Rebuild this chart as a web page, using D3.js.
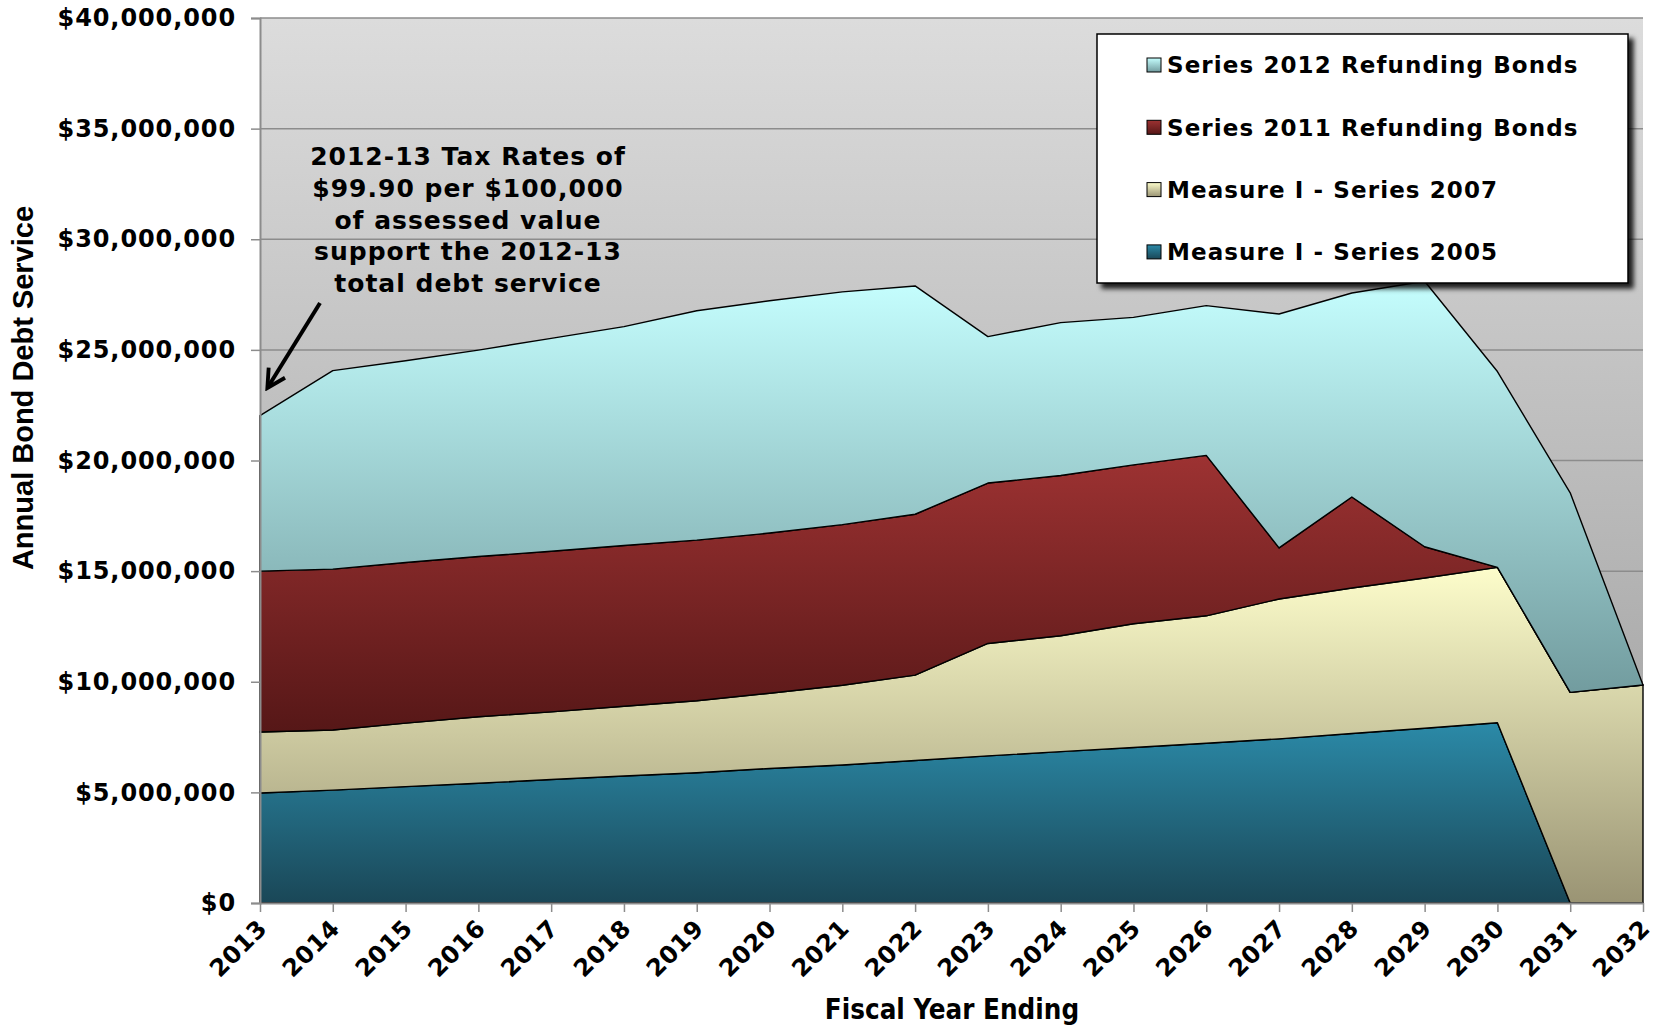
<!DOCTYPE html>
<html>
<head>
<meta charset="utf-8">
<script src="https://cdn.jsdelivr.net/npm/d3@7"></script>
<style>
  body { margin: 0; background: #fff; }
  svg { display: block; }
</style>
</head>
<body>
<div id="chart"></div>
<script>
// fiscal year ending (x axis categories)
const years = ['2013', '2014', '2015', '2016', '2017', '2018', '2019', '2020', '2021', '2022',
    '2023', '2024', '2025', '2026', '2027', '2028', '2029', '2030', '2031', '2032'];

// annual debt service by issue, in dollars
const measure2005 = [4970000, 5100000, 5260000, 5410000, 5580000, 5740000, 5890000, 6080000, 6240000, 6440000,
    6650000, 6840000, 7030000, 7220000, 7420000, 7660000, 7900000, 8150000, 0, 0];
const measure2007 = [2760000, 2720000, 2870000, 3010000, 3060000, 3150000, 3250000, 3400000, 3600000, 3860000,
    5080000, 5240000, 5590000, 5760000, 6320000, 6580000, 6790000, 7020000, 9520000, 9850000];
const refunding2011 = [7270000, 7270000, 7260000, 7240000, 7260000, 7270000, 7260000, 7240000, 7260000, 7270000,
    7250000, 7240000, 7180000, 7250000, 2310000, 4110000, 1410000, 0, 0, 0];
const refunding2012 = [7030000, 8970000, 9120000, 9330000, 9620000, 9890000, 10370000, 10500000, 10520000, 10320000,
    6620000, 6910000, 6670000, 6770000, 10570000, 9220000, 12000000, 8850000, 9020000, 0];

// stack order bottom -> top
const seriesKeys = ['m2005', 'm2007', 'r2011', 'r2012'];
const seriesNames = ['Measure I - Series 2005', 'Measure I - Series 2007',
    'Series 2011 Refunding Bonds', 'Series 2012 Refunding Bonds'];

const yTicks = [0, 5000000, 10000000, 15000000, 20000000, 25000000, 30000000, 35000000, 40000000];

const noteLines = ['2012-13 Tax Rates of', '$99.90 per $100,000', 'of assessed value',
    'support the 2012-13', 'total debt service'];

// gradient stops per series (top, bottom)
const fills = {
    m2005: ['#2b8aa8', '#1a4757'],
    m2007: ['#fdfdcb', '#9a9474'],
    r2011: ['#9d3232', '#561717'],
    r2012: ['#c5fefe', '#729c9f']
};

const width = 1658, height = 1027;
const margin = { top: 18, right: 15, bottom: 124, left: 260 };
const font = "'DejaVu Sans', Verdana, sans-serif";

const svg = d3.select('#chart').append('svg')
    .attr('width', width)
    .attr('height', height)
    .style('background', '#fff');

const defs = svg.append('defs');

// plot background gradient
const bg = defs.append('linearGradient').attr('id', 'bg').attr('x1', 0).attr('y1', 0).attr('x2', 0).attr('y2', 1);
bg.append('stop').attr('offset', '0%').attr('stop-color', '#dcdcdc');
bg.append('stop').attr('offset', '100%').attr('stop-color', '#9c9c9c');

seriesKeys.forEach(k => {
    const g = defs.append('linearGradient').attr('id', 'g-' + k)
        .attr('x1', 0).attr('y1', 0).attr('x2', 0).attr('y2', 1);
    g.append('stop').attr('offset', '0%').attr('stop-color', fills[k][0]);
    g.append('stop').attr('offset', '100%').attr('stop-color', fills[k][1]);
});

defs.append('filter').attr('id', 'shadow')
    .attr('x', '-5%').attr('y', '-5%').attr('width', '115%').attr('height', '120%')
    .append('feDropShadow')
    .attr('dx', 5).attr('dy', 5).attr('stdDeviation', 2.5)
    .attr('flood-color', '#000').attr('flood-opacity', 0.85);

defs.append('marker').attr('id', 'arrow')
    .attr('viewBox', '0 0 10 10')
    .attr('refX', 8).attr('refY', 5)
    .attr('markerWidth', 6).attr('markerHeight', 6)
    .attr('orient', 'auto')
    .append('path')
    .attr('d', 'M1,1 L8.5,5 L1,9')
    .attr('fill', 'none')
    .attr('stroke', '#000')
    .attr('stroke-width', 1.6);

const x = d3.scalePoint()
    .domain(years)
    .range([margin.left, width - margin.right]);

const y = d3.scaleLinear()
    .domain([0, 40000000])
    .range([height - margin.bottom, margin.top]);

// plot area
svg.append('rect')
    .attr('x', margin.left)
    .attr('y', margin.top)
    .attr('width', width - margin.left - margin.right)
    .attr('height', height - margin.top - margin.bottom)
    .attr('fill', 'url(#bg)');

// gridlines
svg.append('g')
    .selectAll('line')
    .data(yTicks.filter(d => d > 0))
    .join('line')
    .attr('x1', margin.left)
    .attr('x2', width - margin.right)
    .attr('y1', d => y(d))
    .attr('y2', d => y(d))
    .attr('stroke', '#8c8c8c')
    .attr('stroke-width', 1.5);

// stacked areas
const table = years.map((yr, i) => ({
    year: yr,
    m2005: measure2005[i],
    m2007: measure2007[i],
    r2011: refunding2011[i],
    r2012: refunding2012[i]
}));

const stacked = d3.stack().keys(seriesKeys)(table);

const area = d3.area()
    .x(d => x(d.data.year))
    .y0(d => y(d[0]))
    .y1(d => y(d[1]));

svg.append('g')
    .selectAll('path')
    .data(stacked)
    .join('path')
    .attr('d', area)
    .attr('fill', d => 'url(#g-' + d.key + ')')
    .attr('stroke', '#000')
    .attr('stroke-width', 1.4)
    .attr('stroke-linejoin', 'round');

// y axis
const yAxis = svg.append('g')
    .attr('transform', `translate(${margin.left},0)`)
    .call(d3.axisLeft(y)
        .tickValues(yTicks)
        .tickFormat(d => '$' + d3.format(',')(d))
        .tickSize(9)
        .tickPadding(15));

yAxis.select('.domain').attr('stroke', '#8c8c8c').attr('stroke-width', 2);
yAxis.selectAll('.tick line').attr('stroke', '#8c8c8c').attr('stroke-width', 1.5);
yAxis.selectAll('.tick text')
    .attr('font-family', font)
    .attr('font-weight', 'bold')
    .attr('font-size', 24)
    .attr('letter-spacing', 0.9)
    .attr('fill', '#000');

// x axis
const xAxis = svg.append('g')
    .attr('transform', `translate(0,${height - margin.bottom})`)
    .call(d3.axisBottom(x).tickSize(9).tickSizeOuter(0));

xAxis.select('.domain').attr('stroke', '#8c8c8c').attr('stroke-width', 2);
xAxis.selectAll('.tick line').attr('stroke', '#8c8c8c').attr('stroke-width', 1.5);
xAxis.selectAll('.tick text')
    .attr('font-family', font)
    .attr('font-weight', 'bold')
    .attr('font-size', 24)
    .attr('letter-spacing', 0.5)
    .attr('fill', '#000')
    .attr('text-anchor', 'end')
    .attr('dy', '0.35em')
    .attr('transform', 'translate(2,21) rotate(-45)')
    .attr('y', 0)
    .attr('x', 0);

// axis titles
svg.append('text')
    .attr('x', 952)
    .attr('y', 1019)
    .attr('text-anchor', 'middle')
    .attr('font-family', "'DejaVu Sans Condensed', 'DejaVu Sans', sans-serif")
    .attr('font-stretch', 'condensed')
    .attr('font-weight', 'bold')
    .attr('font-size', 27.5)
    .text('Fiscal Year Ending');

svg.append('text')
    .attr('transform', 'translate(33,388) rotate(-90)')
    .attr('text-anchor', 'middle')
    .attr('font-family', "'Liberation Sans', Arial, sans-serif")
    .attr('font-weight', 'bold')
    .attr('font-size', 29)
    .text('Annual Bond Debt Service');

// annotation
svg.append('text')
    .attr('font-family', font)
    .attr('font-weight', 'bold')
    .attr('font-size', 25)
    .attr('letter-spacing', 1)
    .attr('text-anchor', 'middle')
    .selectAll('tspan')
    .data(noteLines)
    .join('tspan')
    .attr('x', 468)
    .attr('y', (d, i) => 165 + i * 31.8)
    .text(d => d);

svg.append('line')
    .attr('x1', 320).attr('y1', 303)
    .attr('x2', 268).attr('y2', 387)
    .attr('stroke', '#000')
    .attr('stroke-width', 4)
    .attr('marker-end', 'url(#arrow)');

// legend
const legend = svg.append('g').attr('transform', 'translate(1097,34)');

legend.append('rect')
    .attr('width', 531)
    .attr('height', 249)
    .attr('fill', '#fff')
    .attr('stroke', '#000')
    .attr('stroke-width', 1.5)
    .attr('filter', 'url(#shadow)');

const legendKeys = seriesKeys.slice().reverse();
const legendItem = legend.selectAll('g.item')
    .data(legendKeys)
    .join('g')
    .attr('class', 'item')
    .attr('transform', (d, i) => `translate(50,${31 + i * 62.3})`);

legendItem.append('rect')
    .attr('x', 0)
    .attr('y', -7)
    .attr('width', 14)
    .attr('height', 14)
    .attr('fill', d => 'url(#g-' + d + ')')
    .attr('stroke', '#000')
    .attr('stroke-width', 1);

legendItem.append('text')
    .attr('x', 20)
    .attr('dy', '0.36em')
    .attr('font-family', font)
    .attr('font-weight', 'bold')
    .attr('font-size', 23)
    .attr('letter-spacing', 1.1)
    .text(d => seriesNames[seriesKeys.indexOf(d)]);
</script>
</body>
</html>
